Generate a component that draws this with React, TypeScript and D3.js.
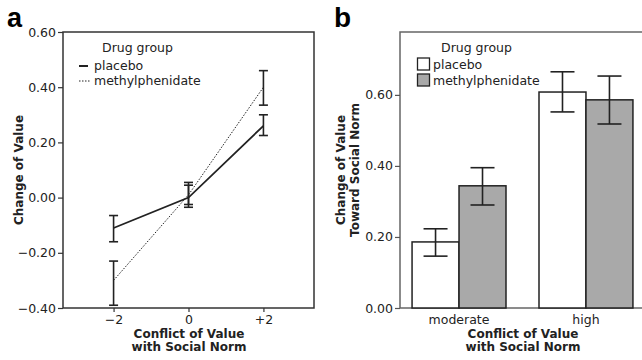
import React, { useRef, useEffect } from 'react';
import * as d3 from 'd3';

// Panel a: change of value by conflict level
const conflictLevels = [-2, 0, 2];
const conflictTickLabels = ['\u22122', '0', '+2'];
const placeboMean = [-0.11, 0.0, 0.26];
const placeboLow = [-0.16, -0.035, 0.225];
const placeboHigh = [-0.065, 0.055, 0.3];
const methylMean = [-0.3, 0.01, 0.4];
const methylLow = [-0.39, -0.025, 0.335];
const methylHigh = [-0.23, 0.045, 0.46];
const changeTicks = [-0.4, -0.2, 0, 0.2, 0.4, 0.6];

// Panel b: change toward social norm
const normCategories = ['moderate', 'high'];
const drugGroups = ['placebo', 'methylphenidate'];
const towardPlacebo = [0.186, 0.608];
const towardPlaceboLow = [0.146, 0.552];
const towardPlaceboHigh = [0.223, 0.665];
const towardMethyl = [0.344, 0.586];
const towardMethylLow = [0.29, 0.518];
const towardMethylHigh = [0.395, 0.653];
const towardTicks = [0, 0.2, 0.4, 0.6];

const FONT = '"DejaVu Sans", Verdana, sans-serif';
const FS = '12.5px';
const INK = '#222';

const App: React.FC = () => {
  const svgRef = useRef<SVGSVGElement>(null);

  useEffect(() => {
    const svg = d3.select(svgRef.current);
    svg.selectAll('*').remove();
    const fmt = d3.format('.2f');

    // ---------- Panel a ----------
    const ax = { left: 63, right: 314, top: 32, bottom: 308 };
    const xA = d3.scaleLinear().domain([-3.35, 3.35]).range([ax.left, ax.right]);
    const yA = d3.scaleLinear().domain([-0.4, 0.6]).range([ax.bottom, ax.top]);
    const gA = svg.append('g');

    gA.append('rect')
      .attr('x', ax.left).attr('y', ax.top)
      .attr('width', ax.right - ax.left).attr('height', ax.bottom - ax.top)
      .attr('fill', 'none').attr('stroke', '#333').attr('stroke-width', 1.5);

    gA.append('g')
      .attr('transform', `translate(${ax.left},0)`)
      .call(d3.axisLeft(yA).tickValues(changeTicks).tickSize(5).tickPadding(2).tickFormat(d => fmt(d as number)))
      .call(g => g.select('.domain').remove())
      .call(g => g.selectAll('line').attr('stroke', '#333').attr('stroke-width', 1.2))
      .call(g => g.selectAll('text').attr('fill', INK).style('font-family', FONT).style('font-size', FS));

    gA.append('g')
      .attr('transform', `translate(0,${ax.bottom})`)
      .call(d3.axisBottom(xA).tickValues(conflictLevels).tickSize(4).tickPadding(3)
        .tickFormat((_, i) => conflictTickLabels[i]))
      .call(g => g.select('.domain').remove())
      .call(g => g.selectAll('line').attr('stroke', '#333').attr('stroke-width', 1.2))
      .call(g => g.selectAll('text').attr('fill', INK).style('font-family', FONT).style('font-size', FS));

    const lineA = d3.line<number>()
      .x((_, i) => xA(conflictLevels[i]))
      .y(d => yA(d));

    gA.append('path').datum(methylMean)
      .attr('d', lineA).attr('fill', 'none')
      .attr('stroke', INK).attr('stroke-width', 1).attr('stroke-dasharray', '1.5,1.5');
    gA.append('path').datum(placeboMean)
      .attr('d', lineA).attr('fill', 'none')
      .attr('stroke', INK).attr('stroke-width', 1.8);

    const errBars = (g: d3.Selection<SVGGElement, unknown, null, undefined>,
      xs: number[], lo: number[], hi: number[], y: d3.ScaleLinear<number, number>, cap: number) => {
      xs.forEach((x, i) => {
        g.append('line').attr('x1', x).attr('x2', x).attr('y1', y(lo[i])).attr('y2', y(hi[i]))
          .attr('stroke', INK).attr('stroke-width', 1.6);
        [lo[i], hi[i]].forEach(v => {
          g.append('line').attr('x1', x - cap / 2).attr('x2', x + cap / 2)
            .attr('y1', y(v)).attr('y2', y(v))
            .attr('stroke', INK).attr('stroke-width', 1.6);
        });
      });
    };

    const xsA = conflictLevels.map(d => xA(d));
    errBars(gA, xsA, placeboLow, placeboHigh, yA, 9);
    errBars(gA, xsA, methylLow, methylHigh, yA, 9);

    // legend a
    const legA = gA.append('g');
    legA.append('text').attr('x', 102).attr('y', 52).text('Drug group')
      .attr('fill', INK).style('font-family', FONT).style('font-size', FS);
    legA.append('line').attr('x1', 79).attr('x2', 88).attr('y1', 66).attr('y2', 66)
      .attr('stroke', INK).attr('stroke-width', 2);
    legA.append('line').attr('x1', 79).attr('x2', 90).attr('y1', 81).attr('y2', 81)
      .attr('stroke', INK).attr('stroke-width', 1).attr('stroke-dasharray', '1.5,1.5');
    legA.append('text').attr('x', 94).attr('y', 70).text(drugGroups[0])
      .attr('fill', INK).style('font-family', FONT).style('font-size', FS);
    legA.append('text').attr('x', 94).attr('y', 85).text(drugGroups[1])
      .attr('fill', INK).style('font-family', FONT).style('font-size', FS);

    // titles a
    gA.append('text').attr('x', 189).attr('y', 338).attr('text-anchor', 'middle')
      .text('Conflict of Value').attr('fill', INK)
      .style('font-family', FONT).style('font-size', '12px').style('font-weight', 'bold');
    gA.append('text').attr('x', 189).attr('y', 351).attr('text-anchor', 'middle')
      .text('with Social Norm').attr('fill', INK)
      .style('font-family', FONT).style('font-size', '12px').style('font-weight', 'bold');
    gA.append('text').attr('transform', 'translate(23,170) rotate(-90)').attr('text-anchor', 'middle')
      .text('Change of Value').attr('fill', INK)
      .style('font-family', FONT).style('font-size', '12px').style('font-weight', 'bold');
    gA.append('text').attr('x', 7).attr('y', 27).text('a').attr('fill', '#000')
      .style('font-family', '"Liberation Sans", Arial, sans-serif').style('font-size', '27px').style('font-weight', 'bold');

    // ---------- Panel b ----------
    const bx = { left: 400, right: 645, top: 32, bottom: 308 };
    const x0 = d3.scaleBand().domain(normCategories).range([bx.left, bx.right])
      .paddingInner(0.26).paddingOuter(0.095);
    const x1 = d3.scaleBand().domain(drugGroups).range([0, x0.bandwidth()]);
    const yB = d3.scaleLinear().domain([0, 0.777]).range([bx.bottom, bx.top]);
    const gB = svg.append('g');

    gB.append('rect')
      .attr('x', bx.left).attr('y', bx.top)
      .attr('width', bx.right - bx.left).attr('height', bx.bottom - bx.top)
      .attr('fill', 'none').attr('stroke', '#666').attr('stroke-width', 1.5);

    gB.append('g')
      .attr('transform', `translate(${bx.left},0)`)
      .call(d3.axisLeft(yB).tickValues(towardTicks).tickSize(5).tickPadding(2).tickFormat(d => fmt(d as number)))
      .call(g => g.select('.domain').remove())
      .call(g => g.selectAll('line').attr('stroke', '#555').attr('stroke-width', 1.2))
      .call(g => g.selectAll('text').attr('fill', INK).style('font-family', FONT).style('font-size', FS));

    gB.append('g')
      .attr('transform', `translate(0,${bx.bottom})`)
      .call(d3.axisBottom(x0).tickSize(0).tickPadding(7))
      .call(g => g.select('.domain').remove())
      .call(g => g.selectAll('text').attr('fill', INK).style('font-family', FONT).style('font-size', FS));

    const seriesB = [
      { name: drugGroups[0], mean: towardPlacebo, lo: towardPlaceboLow, hi: towardPlaceboHigh, fill: '#ffffff' },
      { name: drugGroups[1], mean: towardMethyl, lo: towardMethylLow, hi: towardMethylHigh, fill: '#a9a9a9' },
    ];

    seriesB.forEach(s => {
      gB.selectAll(null)
        .data(s.mean)
        .enter().append('rect')
        .attr('x', (_, i) => (x0(normCategories[i]) as number) + (x1(s.name) as number))
        .attr('y', d => yB(d))
        .attr('width', x1.bandwidth())
        .attr('height', d => yB(0) - yB(d))
        .attr('fill', s.fill).attr('stroke', INK).attr('stroke-width', 1.5);
    });
    seriesB.forEach(s => {
      const xs = normCategories.map(c => (x0(c) as number) + (x1(s.name) as number) + x1.bandwidth() / 2);
      errBars(gB, xs, s.lo, s.hi, yB, 24);
    });

    // legend b
    const legB = gB.append('g');
    legB.append('text').attr('x', 441).attr('y', 52).text('Drug group')
      .attr('fill', INK).style('font-family', FONT).style('font-size', FS);
    seriesB.forEach((s, i) => {
      legB.append('rect').attr('x', 417.5).attr('y', 58 + i * 16).attr('width', 12).attr('height', 12)
        .attr('fill', s.fill).attr('stroke', INK).attr('stroke-width', 1.3);
      legB.append('text').attr('x', 433).attr('y', 69 + i * 15.5).text(s.name)
        .attr('fill', INK).style('font-family', FONT).style('font-size', FS);
    });

    // titles b
    gB.append('text').attr('x', 523).attr('y', 338).attr('text-anchor', 'middle')
      .text('Conflict of Value').attr('fill', INK)
      .style('font-family', FONT).style('font-size', '12px').style('font-weight', 'bold');
    gB.append('text').attr('x', 523).attr('y', 351).attr('text-anchor', 'middle')
      .text('with Social Norm').attr('fill', INK)
      .style('font-family', FONT).style('font-size', '12px').style('font-weight', 'bold');
    gB.append('text').attr('transform', 'translate(345,170) rotate(-90)').attr('text-anchor', 'middle')
      .text('Change of Value').attr('fill', INK)
      .style('font-family', FONT).style('font-size', '12px').style('font-weight', 'bold');
    gB.append('text').attr('transform', 'translate(359,170) rotate(-90)').attr('text-anchor', 'middle')
      .text('Toward Social Norm').attr('fill', INK)
      .style('font-family', FONT).style('font-size', '12px').style('font-weight', 'bold');
    gB.append('text').attr('x', 334).attr('y', 27).text('b').attr('fill', '#000')
      .style('font-family', '"Liberation Sans", Arial, sans-serif').style('font-size', '28px').style('font-weight', 'bold');
  }, []);

  return (
    <svg
      ref={svgRef}
      width={642}
      height={360}
      style={{ position: 'absolute', left: 0, top: 0, background: '#fff' }}
    />
  );
};

export default App;
